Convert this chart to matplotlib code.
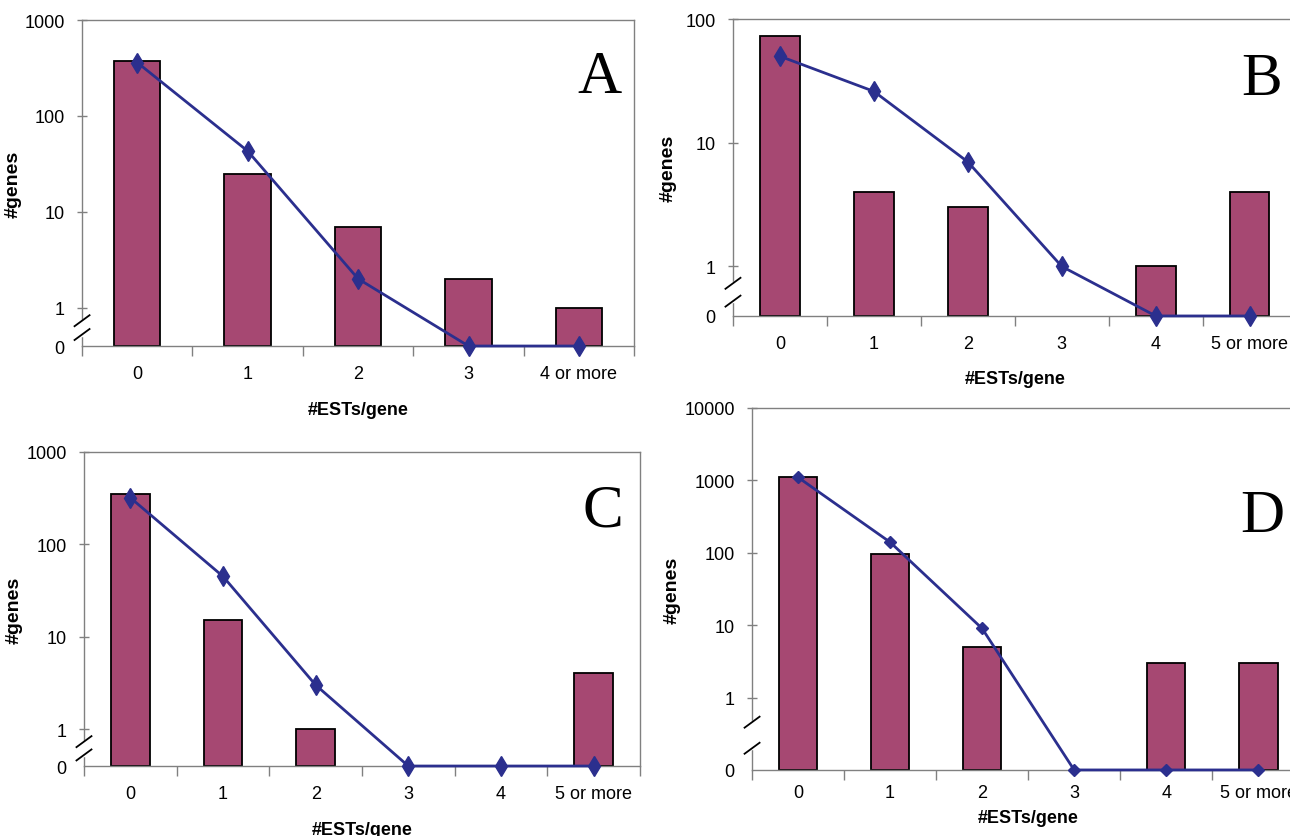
import matplotlib.pyplot as plt
import matplotlib.transforms as mtransforms
import numpy as np

# data (0 means "none", drawn on the broken axis floor)
cats_a = ["0", "1", "2", "3", "4 or more"]
bars_a = [370, 25, 7, 2, 1]
line_a = [360, 43, 2, 0, 0]

cats_b = ["0", "1", "2", "3", "4", "5 or more"]
bars_b = [73, 4, 3, 0, 1, 4]
line_b = [50, 26, 7, 1, 0, 0]

cats_c = ["0", "1", "2", "3", "4", "5 or more"]
bars_c = [350, 15, 1, 0, 0, 4]
line_c = [320, 45, 3, 0, 0, 0]

cats_d = ["0", "1", "2", "3", "4", "5 or more"]
bars_d = [1100, 95, 5, 0, 3, 3]
line_d = [1100, 140, 9, 0, 0, 0]

bar_color = "#A64872"
line_color = "#2B2F8E"
axis_color = "#808080"
sans = ["Liberation Sans", "DejaVu Sans"]

fig = plt.figure(figsize=(12.9, 8.37), dpi=100)


def panel(rect, cats, bars, line, ymax, zero, letter, letter_pos, ylab_x, ms, marker,
          xpad=14, xlabpad=13):
    ax = fig.add_axes(rect)
    x = np.arange(len(cats))
    bars = np.array(bars, dtype=float)
    b = np.where(bars > 0, bars - zero, np.nan)
    l = np.where(np.array(line) > 0, line, zero)
    ax.set_yscale("log")
    ax.bar(x, b, 0.42, bottom=zero, color=bar_color, edgecolor="black",
           linewidth=1.3, zorder=2)
    ax.plot(x, l, color=line_color, lw=2, marker=marker, ms=ms, zorder=4, clip_on=False)
    ax.set_xlim(-0.5, len(cats) - 0.5)
    ax.set_ylim(zero, ymax)

    decades = [10 ** k for k in range(int(round(np.log10(ymax))) + 1)]
    ax.set_yticks([zero] + decades)
    ax.set_yticklabels(["0"] + [str(d) for d in decades], family=sans, fontsize=13)
    ax.yaxis.set_minor_locator(plt.NullLocator())
    ax.tick_params(axis="y", direction="inout", length=7, width=1, color=axis_color, pad=9)
    ax.yaxis.get_major_ticks()[0].tick1line.set_visible(False)

    ax.set_xticks(x)
    ax.set_xticklabels(cats, family=sans, fontsize=13)
    ax.set_xticks(np.arange(len(cats) + 1) - 0.5, minor=True)
    ax.tick_params(axis="x", which="major", length=0, pad=xpad)
    ax.tick_params(axis="x", which="minor", direction="out", length=7, width=1, color=axis_color)

    for s in ax.spines.values():
        s.set_color(axis_color)
        s.set_linewidth(1)

    ax.set_xlabel("#ESTs/gene", family=sans, fontweight="bold", fontsize=13, labelpad=xlabpad)
    ax.set_ylabel("#genes", family=sans, fontweight="bold", fontsize=14)
    ax.yaxis.set_label_coords(ylab_x, 0.5)

    ax.text(letter_pos[0], letter_pos[1], letter, transform=ax.transAxes,
            family="Liberation Serif", fontsize=44, ha="center", va="center")

    # axis break marks between 1 and 0
    lo, hi = np.log10(zero), np.log10(ymax)
    f1 = (0 - lo) / (hi - lo)
    ys = [f1 * 0.66, f1 * 0.3]
    for yf in ys:
        tr = fig.dpi_scale_trans + mtransforms.ScaledTranslation(0, yf, ax.transAxes)
        ax.plot([-0.075, 0.075], [-0.055, 0.055], color="black", lw=1.3,
                transform=tr, clip_on=False, zorder=6)
    ax.plot([0, 0], ys, color="white", lw=2.5, transform=ax.transAxes,
            clip_on=False, zorder=5)
    return ax


panel([0.0636, 0.5854, 0.428, 0.3895], cats_a, bars_a, line_a, 1000, 10 ** -0.4,
      "A", (0.938, 0.825), -0.11, 10, "d")
panel([0.5682, 0.6213, 0.437, 0.3548], cats_b, bars_b, line_b, 100, 10 ** -0.4,
      "B", (0.938, 0.798), -0.1, 10, "d")
panel([0.0651, 0.0836, 0.431, 0.3752], cats_c, bars_c, line_c, 1000, 10 ** -0.4,
      "C", (0.933, 0.812), -0.11, 10, "d")
panel([0.583, 0.0789, 0.428, 0.4325], cats_d, bars_d, line_d, 10000, 0.1,
      "D", (0.924, 0.70), -0.13, 6, "D", xpad=10, xlabpad=6)

fig.savefig("out.png", dpi=100)
